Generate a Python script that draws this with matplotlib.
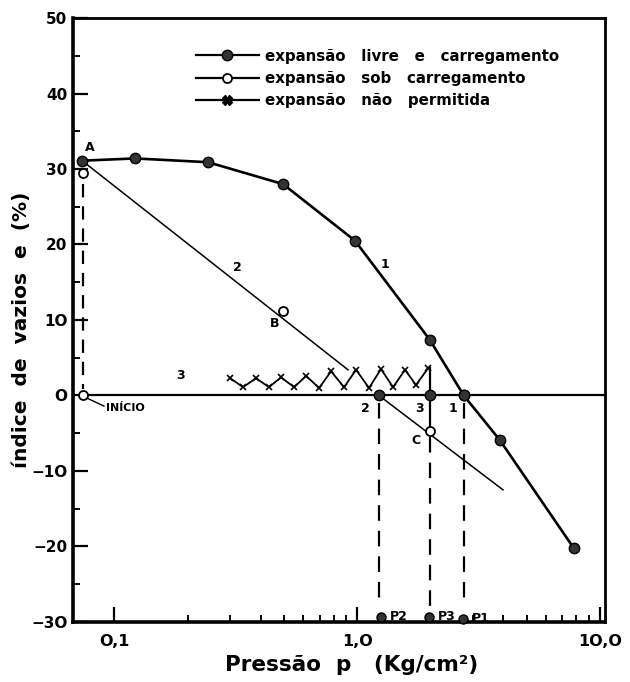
import numpy as np
import matplotlib
matplotlib.use("Agg")
import matplotlib.pyplot as plt
from matplotlib.lines import Line2D

# curva 1 - expansao livre e carregamento
p_livre = [0.0736, 0.1216, 0.243, 0.495, 0.98, 1.99, 2.75, 3.87, 7.8]
e_livre = [31.1, 31.4, 30.9, 28.0, 20.5, 7.4, 0.0, -5.9, -20.2]

# curva 2 - expansao sob carregamento
p_sob_linha = [0.0736, 0.917, np.nan, 1.23, 3.99]
e_sob_linha = [31.1, 3.4, np.nan, 0.0, -12.5]
p_sob_pts = [0.0745, 0.0745, 0.495, 1.99]
e_sob_pts = [29.5, 0.0, 11.2, -4.7]

# curva 3 - expansao nao permitida
p_zero = [0.0745, 10.5]
e_zero = [0.0, 0.0]
p_zig = [0.2995, 0.339, 0.383, 0.433, 0.486, 0.550, 0.616, 0.697, 0.781,
         0.883, 0.990, 1.119, 1.254, 1.406, 1.575, 1.747, 1.96]
e_zig = [2.3, 1.1, 2.3, 1.1, 2.4, 1.1, 2.6, 1.0, 3.2,
         1.1, 3.4, 1.0, 3.5, 1.1, 3.4, 1.4, 3.6]
p_vert3 = [1.99, 1.99]
e_vert3 = [3.6, -4.7]

# pontos sobre e = 0 e pressoes
p_cruz = [1.23, 1.99, 2.75]
e_cruz = [0.0, 0.0, 0.0]
p_P = [1.25, 1.98, 2.73]
e_P = [-29.4, -29.4, -29.6]
nomes_P = ["P2", "P3", "P1"]
e_tracejado_topo = [-1.0, -5.5, -1.0]
e_tracejado_base = [-27.6, -28.0, -27.6]

yticks = [50, 40, 30, 20, 10, 0, -10, -20, -30]
ytick_labels = ["50", "40", "30", "20", "1O", "O", "−1O", "−20", "−3O"]
xticks = [0.1, 1.0, 10.0]
xtick_labels = ["O,1", "1,O", "1O,O"]

plt.rcParams['font.family'] = ['DejaVu Sans']
plt.rcParams['font.weight'] = 'bold'

fig = plt.figure(figsize=(6.3, 6.82), dpi=100)
ax = fig.add_axes([0.1159, 0.088, 0.8444, 0.8856])

k = 'black'
ax.plot(p_livre, e_livre, '-', color=k, lw=1.9, marker='o', ms=7.5,
        markerfacecolor='#333333', markeredgecolor=k, zorder=4)
ax.plot(p_sob_linha, e_sob_linha, '-', color=k, lw=1.1, zorder=3)
ax.plot(p_sob_pts, e_sob_pts, 'o', ms=6.5, markerfacecolor='white',
        markeredgecolor=k, markeredgewidth=1.3, zorder=5)
ax.plot(p_zero, e_zero, '-', color=k, lw=1.6, zorder=3)
ax.plot(p_zig, e_zig, '-', color=k, lw=1.3, marker='x', ms=4,
        markeredgewidth=1.2, zorder=3)
ax.plot(p_vert3, e_vert3, '-', color=k, lw=1.6, zorder=3)
ax.plot(p_cruz, e_cruz, 'o', ms=7.5, markerfacecolor='#333333',
        markeredgecolor=k, zorder=5)

# tracejados
ax.plot([p_sob_pts[0], p_sob_pts[0]], [e_sob_pts[0] - 1.5, 0.8], color=k,
        lw=1.6, ls=(0, (6, 4)))
for x, y0, y1 in zip(p_cruz, e_tracejado_topo, e_tracejado_base):
    ax.plot([x, x], [y0, y1], color=k, lw=1.6, ls=(0, (7, 4.5)))
ax.plot(p_P, e_P, 'o', ms=6.5, markerfacecolor='#333333', markeredgecolor=k,
        zorder=5, clip_on=False)
for x, y, nome in zip(p_P, e_P, nomes_P):
    ax.text(x * 1.09, y + 0.1, nome, fontsize=9, ha='left', va='center')

# rotulos
txt = dict(fontsize=9, ha='center', va='center')
ax.text(0.0793, 32.8, "A", **txt)
ax.text(0.32, 16.9, "2", **txt)
ax.text(0.458, 9.6, "B", **txt)
ax.text(1.30, 17.4, "1", **txt)
ax.text(0.1866, 2.6, "3", **txt)
ax.text(1.078, -1.7, "2", **txt)
ax.text(1.815, -1.7, "3", **txt)
ax.text(2.48, -1.7, "1", **txt)
ax.text(1.746, -6.0, "C", **txt)
ax.text(0.0925, -1.7, "INÍCIO", fontsize=8, ha='left', va='center')
ax.plot([0.0765, 0.0905], [-0.3, -1.4], color=k, lw=1.0)

ax.set_xscale('log')
ax.set_xlim(0.0675, 10.5)
ax.set_ylim(-30, 50)
ax.set_xticks(xticks)
ax.set_xticklabels(xtick_labels, fontsize=11.5, fontweight='bold')
ax.set_xticks([0.2, 0.3, 0.4, 0.5, 0.6, 0.7, 0.8, 0.9,
               2, 3, 4, 5, 6, 7, 8, 9], minor=True)
ax.set_xticklabels([], minor=True)
ax.set_yticks(yticks)
ax.set_yticklabels(ytick_labels, fontsize=11, fontweight='bold')
ax.set_yticks([45, 35, 25, 15, 5, -5, -15, -25], minor=True)
ax.tick_params(axis='both', which='major', direction='in', length=11,
               width=1.6, pad=4)
ax.tick_params(axis='both', which='minor', direction='in', length=5,
               width=1.4)
ax.tick_params(axis='x', which='major', pad=9)
for s in ['left', 'bottom']:
    ax.spines[s].set_linewidth(2.6)
for s in ['top', 'right']:
    ax.spines[s].set_linewidth(2.0)

handles = [
    Line2D([], [], color=k, lw=1.6, marker='o', ms=7.5,
           markerfacecolor='#333333', markeredgecolor=k),
    Line2D([], [], color=k, lw=1.6, marker='o', ms=6.5,
           markerfacecolor='white', markeredgecolor=k, markeredgewidth=1.3),
    Line2D([], [], color=k, lw=1.6, marker='X', ms=7,
           markerfacecolor=k, markeredgecolor=k),
]
labels = ["expansão   livre   e   carregamento",
          "expansão   sob   carregamento",
          "expansão   não   permitida"]
fig.legend(handles, labels, loc='upper left',
           bbox_to_anchor=(188 / 630, 1 - 41 / 682), frameon=False,
           fontsize=10.8, handlelength=4.2, handletextpad=0.45,
           labelspacing=0.5, borderpad=0)

fig.text(22 / 630, 1 - 330 / 682, "índice  de  vazios  e  (%)",
         rotation=90, ha='center', va='center', fontsize=14.5,
         fontweight='bold')
fig.text(352 / 630, 1 - 665 / 682, "Pressão  p   (Kg/cm²)",
         ha='center', va='center', fontsize=15.5, fontweight='bold')

fig.savefig("out.png", dpi=100)
